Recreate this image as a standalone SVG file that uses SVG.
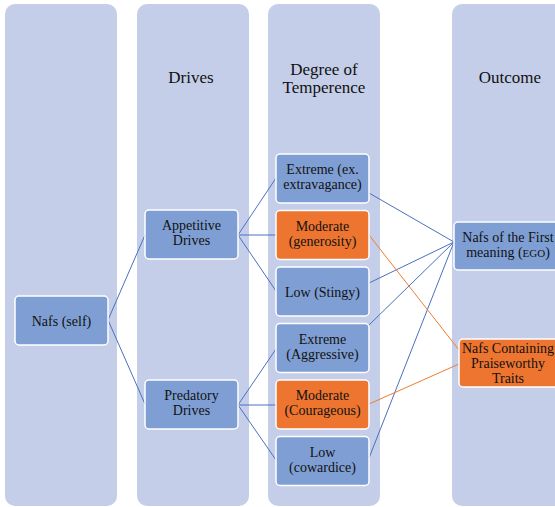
<svg xmlns="http://www.w3.org/2000/svg" width="555" height="507" viewBox="0 0 555 507">
<style>
.col{fill:#C5CEE8;}
.nb{fill:#7F9FD4;stroke:#FFFFFF;stroke-width:1.5;}
.no{fill:#ED7530;stroke:#FFFFFF;stroke-width:1.5;}
.hd{font-family:"Liberation Serif","Times New Roman",serif;font-size:17px;fill:#111111;text-anchor:middle;}
.tx{font-family:"Liberation Serif","Times New Roman",serif;font-size:14px;fill:#111111;text-anchor:middle;}
.lb{stroke:#4A70C0;stroke-width:1;fill:none;}
.lo{stroke:#ED7D31;stroke-width:1;fill:none;}
</style>
<g id="columns">
<rect class="col" x="5" y="4" width="112" height="502" rx="10"/>
<rect class="col" x="137" y="4" width="112" height="502" rx="10"/>
<rect class="col" x="268" y="4" width="112" height="502" rx="10"/>
<rect class="col" x="452" y="4" width="114" height="502" rx="10"/>
<text class="hd" x="191" y="83">Drives</text>
<text class="hd" x="324" y="75">Degree of</text>
<text class="hd" x="324" y="93">Temperence</text>
<text class="hd" x="510" y="83">Outcome</text>
</g>
<g id="connectors">
<line class="lb" x1="108" y1="320" x2="145" y2="235"/>
<line class="lb" x1="108" y1="320" x2="145" y2="404"/>
<line class="lb" x1="238" y1="235" x2="276" y2="178"/>
<line class="lb" x1="238" y1="235" x2="276" y2="235"/>
<line class="lb" x1="238" y1="235" x2="276" y2="291"/>
<line class="lb" x1="238" y1="405" x2="276" y2="349"/>
<line class="lb" x1="238" y1="405" x2="276" y2="405"/>
<line class="lb" x1="238" y1="405" x2="276" y2="460"/>
<line class="lb" x1="369" y1="193" x2="454" y2="242"/>
<line class="lb" x1="369" y1="283" x2="454" y2="242"/>
<line class="lb" x1="369" y1="325" x2="454" y2="242"/>
<line class="lb" x1="369" y1="458" x2="454" y2="242"/>
<line class="lo" x1="369" y1="235" x2="459" y2="350"/>
<line class="lo" x1="369" y1="404" x2="459" y2="364"/>
</g>
<g id="nafs">
<rect class="nb" x="15" y="296" width="93" height="49" rx="4"/>
<text class="tx" x="61.5" y="325.5">Nafs (self)</text>
</g>
<g id="appetitive">
<rect class="nb" x="145" y="210" width="93" height="49" rx="4"/>
<text class="tx" x="191.5" y="230">Appetitive</text>
<text class="tx" x="191.5" y="245">Drives</text>
</g>
<g id="predatory">
<rect class="nb" x="145" y="380" width="93" height="49" rx="4"/>
<text class="tx" x="191.5" y="400">Predatory</text>
<text class="tx" x="191.5" y="415">Drives</text>
</g>
<g id="extreme1">
<rect class="nb" x="276" y="154" width="93" height="49" rx="4"/>
<text class="tx" x="322.5" y="174">Extreme (ex.</text>
<text class="tx" x="322.5" y="189">extravagance)</text>
</g>
<g id="moderate1">
<rect class="no" x="276" y="210.5" width="93" height="49" rx="4"/>
<text class="tx" x="322.5" y="230.5">Moderate</text>
<text class="tx" x="322.5" y="245.5">(generosity)</text>
</g>
<g id="low1">
<rect class="nb" x="276" y="267" width="93" height="49" rx="4"/>
<text class="tx" x="322.5" y="296.5">Low (Stingy)</text>
</g>
<g id="extreme2">
<rect class="nb" x="276" y="323.5" width="93" height="49" rx="4"/>
<text class="tx" x="322.5" y="343.5">Extreme</text>
<text class="tx" x="322.5" y="358.5">(Aggressive)</text>
</g>
<g id="moderate2">
<rect class="no" x="276" y="380" width="93" height="49" rx="4"/>
<text class="tx" x="322.5" y="400">Moderate</text>
<text class="tx" x="322.5" y="415">(Courageous)</text>
</g>
<g id="low2">
<rect class="nb" x="276" y="436.5" width="93" height="49" rx="4"/>
<text class="tx" x="322.5" y="456.5">Low</text>
<text class="tx" x="322.5" y="471.5">(cowardice)</text>
</g>
<g id="ego">
<rect class="nb" x="454" y="222" width="110" height="48" rx="4"/>
<text class="tx" x="508" y="242">Nafs of the First</text>
<text class="tx" x="508" y="257">meaning (<tspan font-size="11">EGO</tspan>)</text>
</g>
<g id="praiseworthy">
<rect class="no" x="459" y="339" width="104" height="48" rx="4"/>
<text class="tx" x="508" y="353">Nafs Containing</text>
<text class="tx" x="508" y="368">Praiseworthy</text>
<text class="tx" x="508" y="383">Traits</text>
</g>
</svg>
